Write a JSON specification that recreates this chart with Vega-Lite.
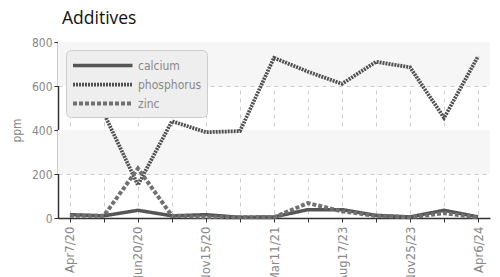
{
  "$schema": "https://vega.github.io/schema/vega-lite/v6.json",
  "width": 432,
  "height": 176,
  "autosize": "none",
  "padding": {"left": 58, "top": 42, "right": 10, "bottom": 59},
  "title": {"text": "Additives", "anchor": "start", "frame": "group", "font": "Open Sans", "fontSize": 17.5, "fontWeight": "normal", "color": "#111", "offset": 9, "dx": 4},
  "config": {"view": {"stroke": null}, "axis": {"labelFont": "DejaVu Sans Condensed", "titleFont": "DejaVu Sans Condensed", "labelColor": "#888", "titleColor": "#888"}},
  "datasets": {
    "bands": [{"lo": 200, "hi": 400}, {"lo": 600, "hi": 800}]
  },
  "layer": [
    {
      "data": {"name": "bands"},
      "mark": {"type": "rect", "color": "#f6f6f6"},
      "encoding": {
        "y": {"field": "lo", "type": "quantitative", "scale": {"domain": [0, 800]},
          "axis": {"title": "ppm", "titleFontSize": 12, "titleFontWeight": "normal", "labelFontSize": 12, "values": [0, 200, 400, 600, 800], "titlePadding": 8,
            "grid": true, "gridDash": [4, 4], "gridColor": "#ccc", "domainColor": "#333", "domainWidth": 1.5, "tickColor": "#333", "tickSize": 4}},
        "y2": {"field": "hi"}
      }
    },
    {
      "data": {"values": [
        {"date": "Apr7/20", "series": "calcium", "value": 15},
        {"date": "May12/20", "series": "calcium", "value": 10},
        {"date": "Jun20/20", "series": "calcium", "value": 35},
        {"date": "Aug3/20", "series": "calcium", "value": 10},
        {"date": "Nov15/20", "series": "calcium", "value": 15},
        {"date": "Jan20/21", "series": "calcium", "value": 3},
        {"date": "Mar11/21", "series": "calcium", "value": 5},
        {"date": "Jun8/22", "series": "calcium", "value": 38},
        {"date": "Aug17/23", "series": "calcium", "value": 38},
        {"date": "Oct5/23", "series": "calcium", "value": 12},
        {"date": "Nov25/23", "series": "calcium", "value": 5},
        {"date": "Feb2/24", "series": "calcium", "value": 35},
        {"date": "Apr6/24", "series": "calcium", "value": 5},
        {"date": "Apr7/20", "series": "phosphorus", "value": 483},
        {"date": "May12/20", "series": "phosphorus", "value": 475},
        {"date": "Jun20/20", "series": "phosphorus", "value": 150},
        {"date": "Aug3/20", "series": "phosphorus", "value": 440},
        {"date": "Nov15/20", "series": "phosphorus", "value": 390},
        {"date": "Jan20/21", "series": "phosphorus", "value": 395},
        {"date": "Mar11/21", "series": "phosphorus", "value": 728},
        {"date": "Jun8/22", "series": "phosphorus", "value": 665},
        {"date": "Aug17/23", "series": "phosphorus", "value": 610},
        {"date": "Oct5/23", "series": "phosphorus", "value": 710},
        {"date": "Nov25/23", "series": "phosphorus", "value": 685},
        {"date": "Feb2/24", "series": "phosphorus", "value": 455},
        {"date": "Apr6/24", "series": "phosphorus", "value": 735},
        {"date": "Apr7/20", "series": "zinc", "value": 10},
        {"date": "May12/20", "series": "zinc", "value": 10},
        {"date": "Jun20/20", "series": "zinc", "value": 225},
        {"date": "Aug3/20", "series": "zinc", "value": 10},
        {"date": "Nov15/20", "series": "zinc", "value": 5},
        {"date": "Jan20/21", "series": "zinc", "value": 3},
        {"date": "Mar11/21", "series": "zinc", "value": 3},
        {"date": "Jun8/22", "series": "zinc", "value": 68},
        {"date": "Aug17/23", "series": "zinc", "value": 30},
        {"date": "Oct5/23", "series": "zinc", "value": 10},
        {"date": "Nov25/23", "series": "zinc", "value": 3},
        {"date": "Feb2/24", "series": "zinc", "value": 22},
        {"date": "Apr6/24", "series": "zinc", "value": 2}
      ]},
      "mark": {"type": "line"},
      "encoding": {
        "x": {"field": "date", "type": "ordinal", "scale": {"type": "point", "padding": 0.35},
          "sort": ["Apr7/20", "May12/20", "Jun20/20", "Aug3/20", "Nov15/20", "Jan20/21", "Mar11/21", "Jun8/22", "Aug17/23", "Oct5/23", "Nov25/23", "Feb2/24", "Apr6/24"],
          "axis": {"title": null, "labelAngle": -90, "labelFontSize": 13, "labelPadding": 4,
            "labelExpr": "indexof(['Apr7/20','Jun20/20','Nov15/20','Mar11/21','Aug17/23','Nov25/23','Apr6/24'], datum.value) >= 0 ? datum.value : ''",
            "grid": true, "gridDash": [4, 4], "gridColor": "#ccc", "domainColor": "#333", "domainWidth": 1.5, "tickColor": "#333", "tickSize": 4}},
        "y": {"field": "value", "type": "quantitative", "scale": {"domain": [0, 800]},
          "axis": {"title": "ppm", "titleFontSize": 12, "titleFontWeight": "normal", "labelFontSize": 12, "values": [0, 200, 400, 600, 800], "titlePadding": 8,
            "grid": true, "gridDash": [4, 4], "gridColor": "#ccc", "domainColor": "#333", "domainWidth": 1.5, "tickColor": "#333", "tickSize": 4}},
        "color": {"field": "series", "type": "nominal", "scale": {"range": ["#555", "#505050", "#707070"]},
          "legend": {"title": null, "orient": "top-left", "offset": 8, "symbolType": "M-1,0H6", "symbolSize": 289, "symbolStrokeWidth": 4, "symbolFillColor": "transparent",
            "labelFont": "DejaVu Sans Condensed", "labelFontSize": 12, "labelColor": "#888", "labelOffset": 46,
            "fillColor": "#eee", "strokeColor": "#ccc", "cornerRadius": 5, "padding": 5, "rowPadding": 1}},
        "strokeDash": {"field": "series", "type": "nominal", "scale": {"range": [[1, 0], [2, 1], [4, 2]]}, "legend": null},
        "strokeWidth": {"field": "series", "type": "nominal", "scale": {"range": [3.5, 4, 1.6]}, "legend": null}
      }
    }
  ]
}
